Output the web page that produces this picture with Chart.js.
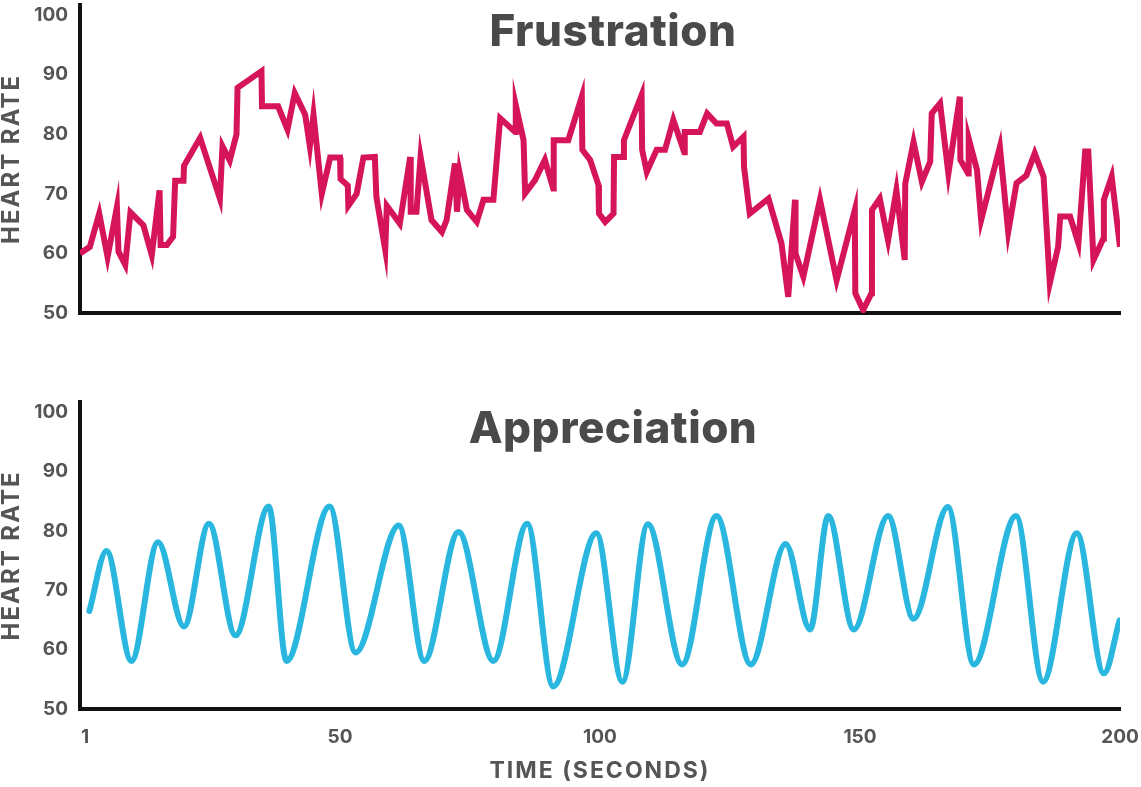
<!DOCTYPE html>
<html>
<head>
<meta charset="utf-8">
<title>Heart rate: frustration vs appreciation</title>
<script src="https://cdn.jsdelivr.net/npm/chart.js@4/dist/chart.umd.min.js"></script>
<style>
  html, body { margin: 0; padding: 0; background: #fff; }
  .panel { position: absolute; left: 0; width: 1141px; }
  #topPanel { top: 0; height: 330px; }
  #bottomPanel { top: 390px; height: 397px; }
</style>
</head>
<body>
<div class="panel" id="topPanel"><canvas id="frustrationChart" width="1141" height="330"></canvas></div>
<div class="panel" id="bottomPanel"><canvas id="appreciationChart" width="1141" height="397"></canvas></div>
<script>
// --- Data ---
const frustrationTime = [
  0, 1.9, 3.7, 5.3, 7.1, 7.4, 8.7, 9.7, 12.2, 13.8, 15.3, 15.5, 16.7, 17.9, 18.3, 19.9, 20.0, 23.1, 26.9, 27.4,
  28.8, 30.1, 30.3, 34.9, 35.0, 38.1, 39.9, 41.3, 43.3, 44.2, 44.9, 46.5, 48.1, 50.0, 50.1, 51.5, 51.6, 53.2, 54.5, 56.7,
  57.0, 58.7, 59.0, 61.5, 63.5, 63.6, 64.7, 65.5, 67.6, 69.6, 70.5, 72.1, 72.5, 73.0, 74.4, 76.3, 77.6, 79.5, 80.8, 83.7,
  83.8, 85.3, 85.6, 87.5, 89.4, 91.0, 91.1, 93.9, 96.5, 96.6, 98.1, 99.7, 99.8, 101.0, 102.6, 102.7, 104.5, 104.6, 108.0, 108.1,
  109.0, 110.9, 112.5, 114.1, 116.2, 116.3, 119.2, 120.6, 122.4, 124.4, 125.6, 127.6, 127.7, 128.8, 132.4, 134.9, 136.2, 137.5, 137.6, 139.1,
  142.3, 145.5, 149.0, 149.1, 150.6, 152.2, 152.3, 153.8, 155.4, 157.0, 158.6, 158.7, 160.3, 161.9, 163.5, 163.8, 165.4, 167.0, 169.2, 169.3,
  170.8, 170.9, 172.5, 173.3, 176.9, 178.5, 180.1, 182.0, 183.6, 185.3, 186.5, 188.1, 188.5, 190.4, 192.0, 193.3, 193.9, 194.9, 196.8, 196.9,
  198.4, 200.0
];
const frustrationHR = [
  60, 61.1, 66.7, 59.4, 67.8, 60.3, 58.1, 66.9, 64.7, 59.7, 70.6, 61.4, 61.4, 62.8, 72.2, 72.2, 74.7, 79.4, 69.2, 78,
  75.6, 80, 87.8, 90.6, 84.7, 84.7, 80.8, 86.9, 83.3, 78, 83.3, 70, 76.1, 76.1, 72.5, 71.4, 68, 70, 76.1, 76.2,
  69.5, 60.6, 68, 65, 76.2, 67, 67, 76.2, 65.6, 63.6, 65.6, 75.1, 67, 73.5, 67.3, 65.3, 69, 69, 82.7, 80.4,
  84.9, 79, 70.1, 72.3, 75.7, 70.9, 79, 79, 86.3, 77.4, 75.7, 71.5, 66.7, 65.3, 66.7, 76.2, 76.2, 79, 86.6, 77.4,
  73.7, 77.4, 77.4, 82.4, 77, 80.4, 80.4, 83.5, 81.8, 81.8, 77.9, 79.6, 74.5, 66.7, 69.2, 61.7, 52.7, 69, 60, 56.1,
  69, 55.5, 67.3, 53.3, 50.5, 53.3, 67.3, 69.2, 62.2, 70.6, 58.9, 71.7, 78.7, 72, 75.4, 83.5, 85.2, 73.4, 86.3, 75.7,
  73.4, 79.3, 74, 65.6, 77.9, 63.6, 71.8, 73.1, 76.8, 72.9, 55, 61.1, 66.2, 66.2, 61.7, 77.1, 77.1, 58.9, 62.5, 69,
  72.9, 61.1
];

// peaks and troughs of the calm curve
const appreciationTime = [
  1.8, 5.1, 9.9, 15.0, 20.0, 24.8, 29.9, 36.3, 39.7, 48.0, 53.0, 61.3, 66.2, 72.8, 79.5, 86.0, 91.0, 99.3, 104.3, 109.2,
  115.8, 122.4, 129.0, 135.7, 140.4, 143.9, 148.8, 155.4, 160.3, 166.9, 171.9, 180.0, 185.2, 191.7, 196.9, 199.9
];
const appreciationHR = [
  66.5, 76.6, 58.1, 78.1, 63.9, 81.2, 62.4, 84.1, 58.1, 84.1, 59.5, 80.9, 58.1, 79.8, 58.1, 81.2, 53.8, 79.6, 54.6, 81.1,
  57.5, 82.5, 57.5, 77.8, 63.4, 82.5, 63.4, 82.5, 65.2, 84.0, 57.5, 82.5, 54.6, 79.6, 56.0, 64.9
];

const yTicks = [50, 60, 70, 80, 90, 100];
const xTicks = [1, 50, 100, 150, 200];

const fontFamily = 'Inter, Lato, sans-serif';
const textGrey = '#555555';
const titleGrey = '#4a4a4a';

// axis titles get wide tracking, tick numbers none (ticks are drawn after the datasets, z: 1)
const tracking = {
  id: 'tracking',
  beforeDraw(chart) { chart.ctx.letterSpacing = '2px'; },
  afterDatasetsDraw(chart) { chart.ctx.letterSpacing = '0px'; }
};

// --- Panel title drawn inside the plot area ---
const panelTitle = {
  id: 'panelTitle',
  afterDraw(chart, args, opts) {
    const ctx = chart.ctx;
    const area = chart.chartArea;
    ctx.save();
    ctx.letterSpacing = '0.5px';
    ctx.font = '800 44px ' + fontFamily;
    ctx.fillStyle = titleGrey;
    ctx.textAlign = 'center';
    ctx.textBaseline = 'middle';
    ctx.fillText(opts.text, (area.left + area.right) / 2 + 13, opts.y);
    ctx.restore();
  }
};

function toPoints(xs, ys) {
  return xs.map((x, i) => ({ x: x, y: ys[i] }));
}

function buildChart(canvasId, cfg) {
  const ctx = document.getElementById(canvasId).getContext('2d');
  return new Chart(ctx, {
    type: 'line',
    data: {
      datasets: [{
        label: cfg.title,
        data: toPoints(cfg.xs, cfg.ys),
        borderColor: cfg.color,
        borderWidth: 6,
        pointRadius: 0,
        tension: 0,
        cubicInterpolationMode: cfg.smooth ? 'monotone' : 'default',
        borderJoinStyle: cfg.smooth ? 'round' : 'miter',
        borderCapStyle: cfg.smooth ? 'round' : 'butt'
      }]
    },
    options: {
      responsive: false,
      animation: false,
      layout: { padding: { top: cfg.padTop, right: 21, bottom: 0, left: 0 } },
      plugins: {
        legend: { display: false },
        tooltip: { enabled: false },
        panelTitle: { text: cfg.title, y: cfg.titleY }
      },
      scales: {
        x: {
          type: 'linear',
          min: 0,
          max: 200,
          grid: { display: false, drawTicks: false },
          border: { display: true, color: '#111', width: 4 },
          afterBuildTicks: (scale) => { scale.ticks = xTicks.map(v => ({ value: v })); },
          afterFit: (scale) => {
            scale.height = cfg.xHeight;
            scale.paddingLeft = 0;
            scale.paddingRight = 0;
          },
          ticks: {
            display: cfg.showX,
            z: 1,
            color: textGrey,
            padding: 17,
            maxRotation: 0,
            font: { family: fontFamily, size: 19, weight: 'bold' }
          },
          title: {
            display: cfg.showX,
            text: 'TIME (SECONDS)',
            color: textGrey,
            padding: { top: 0, bottom: 2 },
            font: { family: fontFamily, size: 23, weight: 'bold' }
          }
        },
        y: {
          min: 50,
          max: 101.7,
          grid: { display: false, drawTicks: false },
          border: { display: true, color: '#111', width: 4 },
          afterBuildTicks: (scale) => { scale.ticks = yTicks.map(v => ({ value: v })); },
          afterFit: (scale) => { scale.width = 80; scale.paddingTop = 0; scale.paddingBottom = 0; },
          ticks: {
            z: 1,
            color: textGrey,
            padding: 12,
            font: { family: fontFamily, size: 19, weight: 'bold' }
          },
          title: {
            display: true,
            text: 'HEART RATE',
            color: textGrey,
            padding: 0,
            font: { family: fontFamily, size: 24, weight: 'bold', lineHeight: 1 }
          }
        }
      }
    },
    plugins: [tracking, panelTitle]
  });
}

buildChart('frustrationChart', {
  title: 'Frustration', titleY: 33,
  xs: frustrationTime, ys: frustrationHR,
  color: '#d5145a', smooth: false,
  padTop: 5, xHeight: 17, showX: false
});

buildChart('appreciationChart', {
  title: 'Appreciation', titleY: 40,
  xs: appreciationTime, ys: appreciationHR,
  color: '#2ab7df', smooth: true,
  padTop: 12, xHeight: 78, showX: true
});
</script>
</body>
</html>
